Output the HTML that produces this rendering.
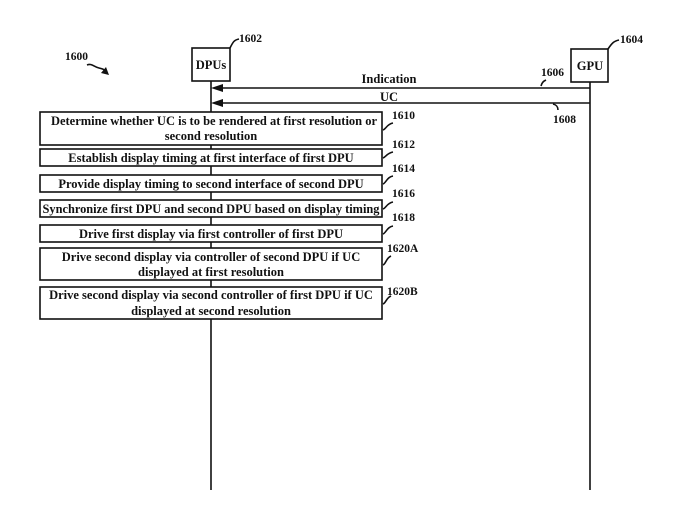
<!DOCTYPE html>
<html><head><meta charset="utf-8"><style>
html,body{margin:0;padding:0;background:#fff;}
svg{display:block;}
text{font-family:"Liberation Serif","Times New Roman",serif;font-weight:bold;fill:#111;}
</style></head><body>
<svg width="687" height="526" viewBox="0 0 687 526" xmlns="http://www.w3.org/2000/svg">
<g stroke="#111" stroke-width="1.6" fill="none">
<line x1="211" y1="81" x2="211" y2="490"/>
<line x1="590" y1="82" x2="590" y2="490"/>
<line x1="215" y1="88" x2="590" y2="88"/>
<line x1="215" y1="103" x2="590" y2="103"/>
<path d="M230 48 C233 42,234 40,239 39"/>
<path d="M608 49 C612 43,614 41,619 40"/>
<path d="M541 86 C542 82,544 81,546 80"/>
<path d="M553 104 C557 105,558 107,558 110"/>
<path d="M87 65 C92 63,94 67,99 68 C103 69,104 69,106 72"/>
<path d="M383 130 C386 129,387 124,393 123"/>
<path d="M383 158 C386 157,387 153,393 152"/>
<path d="M383 184 C386 183,387 177,393 176"/>
<path d="M383 209 C386 208,387 203,393 202"/>
<path d="M383 234 C386 233,387 227,393 226"/>
<path d="M383 265 C386 264,386 258,391 256"/>
<path d="M383 304 C386 303,386 298,391 296"/>
</g>
<polygon points="211,88 223,84 223,92" fill="#111"/>
<polygon points="211,103 223,99 223,107" fill="#111"/>
<polygon points="109,75 101,73 106,67" fill="#111"/>
<g stroke="#111" stroke-width="1.6" fill="#fff">
<rect x="192" y="48" width="38" height="33"/>
<rect x="571" y="49" width="37" height="33"/>
<rect x="40" y="112" width="342" height="33"/>
<rect x="40" y="149" width="342" height="17"/>
<rect x="40" y="175" width="342" height="17"/>
<rect x="40" y="200" width="342" height="17"/>
<rect x="40" y="225" width="342" height="17"/>
<rect x="40" y="248" width="342" height="32"/>
<rect x="40" y="287" width="342" height="32"/>
</g>
<g font-size="12.5" text-anchor="middle">
<text x="211" y="69">DPUs</text>
<text x="590" y="70">GPU</text>
<text x="389" y="83">Indication</text>
<text x="389" y="101">UC</text>
<text x="214" y="125">Determine whether UC is to be rendered at first resolution or</text>
<text x="211" y="140">second resolution</text>
<text x="211" y="162">Establish display timing at first interface of first DPU</text>
<text x="211" y="188">Provide display timing to second interface of second DPU</text>
<text x="211" y="213" textLength="337" lengthAdjust="spacingAndGlyphs">Synchronize first DPU and second DPU based on display timing</text>
<text x="211" y="238">Drive first display via first controller of first DPU</text>
<text x="211" y="261">Drive second display via controller of second DPU if UC</text>
<text x="211" y="276">displayed at first resolution</text>
<text x="211" y="299">Drive second display via second controller of first DPU if UC</text>
<text x="211" y="315">displayed at second resolution</text>
</g>
<g font-size="11.5">
<text x="65" y="60">1600</text>
<text x="239" y="42">1602</text>
<text x="620" y="43">1604</text>
<text x="541" y="76">1606</text>
<text x="553" y="123">1608</text>
<text x="392" y="119">1610</text>
<text x="392" y="148">1612</text>
<text x="392" y="172">1614</text>
<text x="392" y="197">1616</text>
<text x="392" y="221">1618</text>
<text x="387" y="252">1620A</text>
<text x="387" y="295">1620B</text>
</g>
</svg>
</body></html>
